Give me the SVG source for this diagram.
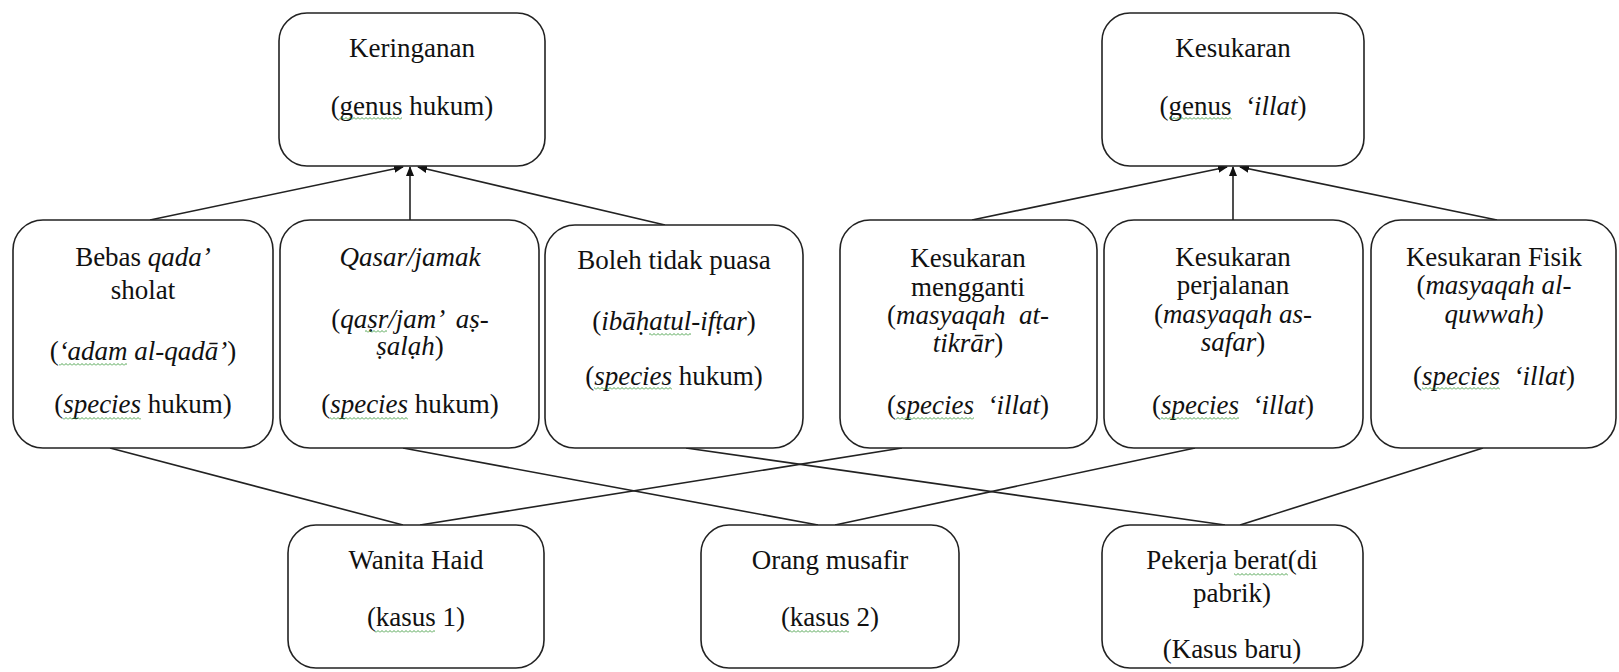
<svg xmlns="http://www.w3.org/2000/svg" width="1619" height="672" viewBox="0 0 1619 672">
<defs>
<marker id="arr" markerWidth="10" markerHeight="10" refX="9" refY="4" orient="auto" markerUnits="userSpaceOnUse"><path d="M0,0 L10,4 L0,8 z" fill="#111"/></marker>
<pattern id="wave" x="0" y="0" width="4" height="3" patternUnits="userSpaceOnUse"><path d="M0,2.5 L2,0.5 L4,2.5" fill="none" stroke="#3c9a3c" stroke-width="0.9"/></pattern>
<style>
.box{fill:#fff;stroke:#222;stroke-width:1.6}
text{font-family:'Liberation Serif','Times New Roman',serif;font-size:27px;fill:#111;text-anchor:middle;white-space:pre}
.i{font-style:italic}
.c{stroke:#222;stroke-width:1.6;fill:none}
.a{marker-end:url(#arr)}
.w{fill:url(#wave)}
</style>
</defs>
<rect width="1619" height="672" fill="#fff"/>
<g id="connectors">
<line class="c a" x1="150" y1="220" x2="403" y2="167"/>
<line class="c a" x1="410" y1="220" x2="410" y2="167"/>
<line class="c a" x1="665" y1="225" x2="418" y2="167"/>
<line class="c a" x1="972" y1="220" x2="1227" y2="167"/>
<line class="c a" x1="1233" y1="220" x2="1233" y2="167"/>
<line class="c a" x1="1497" y1="220" x2="1240" y2="167"/>
<line class="c" x1="110" y1="448" x2="403" y2="525"/>
<line class="c" x1="902" y1="448" x2="420" y2="525"/>
<line class="c" x1="403" y1="448" x2="818" y2="525"/>
<line class="c" x1="1195" y1="448" x2="835" y2="525"/>
<line class="c" x1="686" y1="448" x2="1225" y2="525"/>
<line class="c" x1="1483" y1="448" x2="1240" y2="525"/>
</g>
<g id="keringanan">
<rect class="box" x="279" y="13" width="266" height="153" rx="28"/>
<text x="412" y="57">Keringanan</text>
<text x="412" y="115">(genus hukum)</text>
<rect class="w" x="339" y="117" width="63" height="3"/>
</g>
<g id="kesukaran">
<rect class="box" x="1102" y="13" width="262" height="153" rx="28"/>
<text x="1233" y="57">Kesukaran</text>
<text x="1233" y="115">(genus  <tspan class="i">‘illat</tspan>)</text>
<rect class="w" x="1169" y="117" width="63" height="3"/>
</g>
<g id="bebas">
<rect class="box" x="13" y="220" width="260" height="228" rx="30"/>
<text x="143" y="266">Bebas <tspan class="i">qada’</tspan></text>
<text x="143" y="299">sholat</text>
<text x="143" y="360">(<tspan class="i">‘adam al-qadā’</tspan>)</text>
<rect class="w" x="59" y="363" width="68" height="3"/>
<text x="143" y="413">(<tspan class="i">species</tspan> hukum)</text>
<rect class="w" x="63" y="417" width="78" height="3"/>
</g>
<g id="qasar">
<rect class="box" x="280" y="220" width="259" height="228" rx="30"/>
<text class="i" x="410" y="266">Qasar/jamak</text>
<text x="410" y="328">(<tspan class="i">qaṣr/jam’  aṣ-</tspan></text>
<rect class="w" x="365" y="330" width="22" height="3"/>
<text x="410" y="355"><tspan class="i">ṣalạh</tspan>)</text>
<text x="410" y="413">(<tspan class="i">species</tspan> hukum)</text>
<rect class="w" x="330" y="417" width="78" height="3"/>
</g>
<g id="boleh">
<rect class="box" x="545" y="225" width="258" height="223" rx="30"/>
<text x="674" y="269">Boleh tidak puasa</text>
<text x="674" y="330">(<tspan class="i">ibāḥatul-ifṭar</tspan>)</text>
<rect class="w" x="649" y="333" width="42" height="3"/>
<text x="674" y="385">(<tspan class="i">species</tspan> hukum)</text>
<rect class="w" x="594" y="387" width="78" height="3"/>
</g>
<g id="mengganti">
<rect class="box" x="840" y="220" width="257" height="228" rx="30"/>
<text x="968" y="267">Kesukaran</text>
<text x="968" y="296">mengganti</text>
<text x="968" y="324">(<tspan class="i">masyaqah  at-</tspan></text>
<text x="968" y="352"><tspan class="i">tikrār</tspan>)</text>
<text x="968" y="414">(<tspan class="i">species</tspan>  <tspan class="i">‘illat</tspan>)</text>
<rect class="w" x="896" y="417" width="78" height="3"/>
</g>
<g id="perjalanan">
<rect class="box" x="1104" y="220" width="259" height="228" rx="30"/>
<text x="1233" y="266">Kesukaran</text>
<text x="1233" y="294">perjalanan</text>
<text x="1233" y="323">(<tspan class="i">masyaqah as-</tspan></text>
<text x="1233" y="351"><tspan class="i">safar</tspan>)</text>
<text x="1233" y="414">(<tspan class="i">species</tspan>  <tspan class="i">‘illat</tspan>)</text>
<rect class="w" x="1161" y="417" width="78" height="3"/>
</g>
<g id="fisik">
<rect class="box" x="1371" y="220" width="245" height="228" rx="30"/>
<text x="1494" y="266">Kesukaran Fisik</text>
<text x="1494" y="294">(<tspan class="i">masyaqah al-</tspan></text>
<text class="i" x="1494" y="323">quwwah)</text>
<text x="1494" y="385">(<tspan class="i">species</tspan>  <tspan class="i">‘illat</tspan>)</text>
<rect class="w" x="1422" y="387" width="78" height="3"/>
</g>
<g id="wanita">
<rect class="box" x="288" y="525" width="256" height="143" rx="28"/>
<text x="416" y="569">Wanita Haid</text>
<text x="416" y="626">(kasus 1)</text>
<rect class="w" x="375" y="630" width="60" height="3"/>
</g>
<g id="orang">
<rect class="box" x="701" y="525" width="258" height="143" rx="28"/>
<text x="830" y="569">Orang musafir</text>
<text x="830" y="626">(kasus 2)</text>
<rect class="w" x="789" y="630" width="60" height="3"/>
</g>
<g id="pekerja">
<rect class="box" x="1102" y="525" width="261" height="143" rx="28"/>
<text x="1232" y="569">Pekerja berat(di</text>
<rect class="w" x="1234" y="573" width="54" height="3"/>
<text x="1232" y="602">pabrik)</text>
<text x="1232" y="658">(Kasus baru)</text>
</g>
</svg>
